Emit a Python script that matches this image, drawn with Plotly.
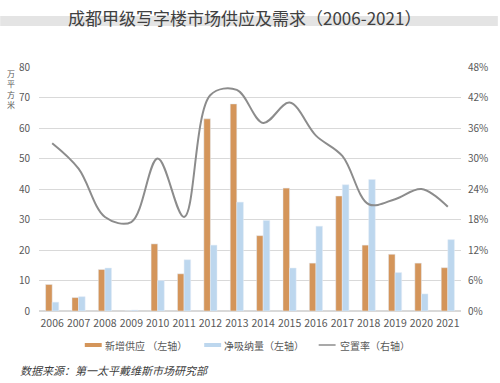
import plotly.graph_objects as go

years = [str(y) for y in range(2006, 2022)]
supply = [8.7, 4.4, 13.6, 0, 22.0, 12.2, 63.0, 67.9, 24.7, 40.3, 15.7, 37.7, 21.6, 18.6, 15.7, 14.2]
absorption = [2.9, 4.7, 14.1, 0.3, 10.0, 16.8, 21.6, 35.7, 29.7, 14.1, 27.8, 41.4, 43.1, 12.6, 5.6, 23.4]
vacancy = [0.33, 0.28, 0.185, 0.175, 0.30, 0.185, 0.425, 0.435, 0.37, 0.41, 0.345, 0.305, 0.21, 0.22, 0.24, 0.205]

FONT = "Noto Sans CJK SC"
GRAY = "#595959"
ORANGE = "#D4955A"
BLUE = "#BDD7EE"
LINE = "#8C8C8C"

fig = go.Figure()
fig.add_trace(go.Bar(x=years, y=supply, name="新增供应 （左轴）", marker_color=ORANGE))
fig.add_trace(go.Bar(x=years, y=absorption, name="净吸纳量（左轴）", marker_color=BLUE))
fig.add_trace(go.Scatter(x=years, y=vacancy, name="空置率（右轴）", mode="lines",
                         line=dict(color=LINE, width=2, shape="spline", smoothing=1.0),
                         yaxis="y2"))

L, R, T, B = 39, 37, 67, 72
W, H = 500, 383
pw, ph = W - L - R, H - T - B

def px(x):
    return (x - L) / pw

def py(y):
    return (H - B - y) / ph

shapes = [
    dict(type="rect", xref="paper", yref="paper", x0=px(0), x1=px(500),
         y0=py(26), y1=py(16), fillcolor="#E4E4E4", line_width=0, layer="below"),
    # custom legend symbols
    dict(type="rect", xref="paper", yref="paper", x0=px(85), x1=px(102),
         y0=py(347), y1=py(343), fillcolor=ORANGE, line_width=0),
    dict(type="rect", xref="paper", yref="paper", x0=px(205), x1=px(222),
         y0=py(347), y1=py(343), fillcolor=BLUE, line_width=0),
    dict(type="line", xref="paper", yref="paper", x0=px(320), x1=px(337),
         y0=py(345), y1=py(345), line=dict(color=LINE, width=1.5)),
]

fig.update_layout(
    width=W, height=H,
    margin=dict(l=L, r=R, t=T, b=B),
    paper_bgcolor="white", plot_bgcolor="white",
    font=dict(family=FONT, size=10, color=GRAY),
    barmode="group", bargap=0.5, bargroupgap=0,
    showlegend=False,
    xaxis=dict(type="category", showgrid=False, ticks="", tickfont=dict(size=10.5, color=GRAY),
               range=[-0.5, 15.5], ticklabelstandoff=4),
    yaxis=dict(range=[0, 80], dtick=10, showgrid=True, gridcolor="#D9D9D9", gridwidth=1,
               zeroline=True, zerolinecolor="#D9D9D9", ticks="", tickfont=dict(size=10, color=GRAY),
               ticklabelstandoff=8),
    yaxis2=dict(range=[0, 0.48], dtick=0.06, tickformat=".0%", overlaying="y", side="right",
                showgrid=False, zeroline=False, ticks="", tickfont=dict(size=10, color=GRAY),
                ticklabelstandoff=6),
    shapes=shapes,
)

ann = [
    dict(text="成都甲级写字楼市场供应及需求（2006-2021）", x=px(245), y=py(17), xref="paper", yref="paper",
         xanchor="center", yanchor="middle", showarrow=False,
         font=dict(family=FONT, size=17, color="#404040")),
    dict(text="数据来源：第一太平戴维斯市场研究部", x=px(18), y=py(370), xref="paper", yref="paper",
         xanchor="left", yanchor="middle", showarrow=False,
         font=dict(family=FONT, size=11, color="#404040", style="italic")),
    dict(text="万<br>平<br>方<br>米", x=px(11), y=py(89), xref="paper", yref="paper",
         xanchor="center", yanchor="middle", showarrow=False,
         font=dict(family=FONT, size=8, color=GRAY)),
]
legend_items = [(103, "新增供应 （左轴）"), (223, "净吸纳量（左轴）"), (339, "空置率（右轴）")]
for x0, txt in legend_items:
    ann.append(dict(text=txt, x=px(x0), y=py(345), xref="paper", yref="paper",
                    xanchor="left", yanchor="middle", showarrow=False,
                    font=dict(family=FONT, size=10, color=GRAY)))
fig.update_layout(annotations=ann)

fig.write_html("out.html", config={"displayModeBar": False},
               post_script="document.body.style.margin='0';")
